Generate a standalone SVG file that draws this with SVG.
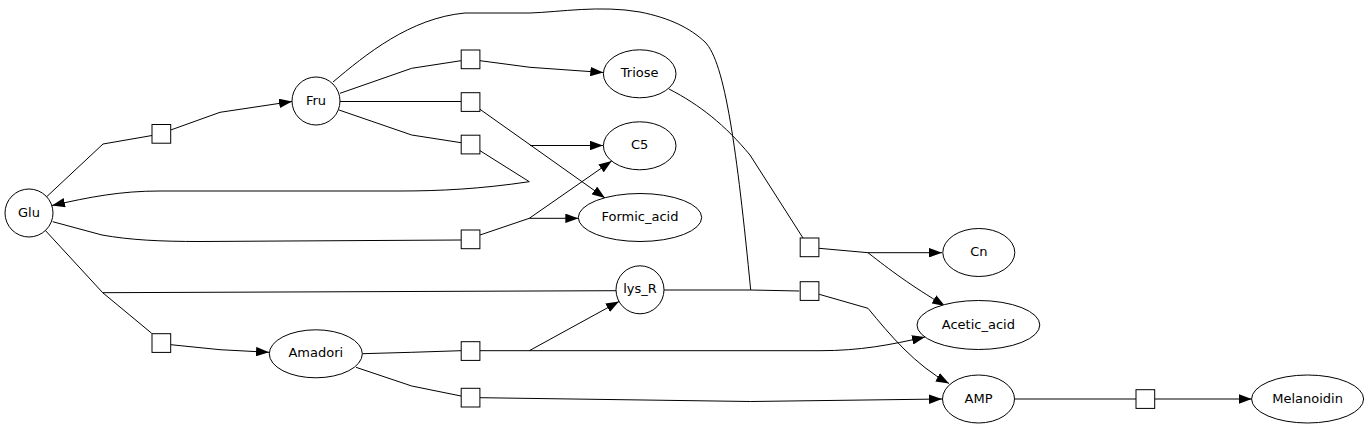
<svg xmlns="http://www.w3.org/2000/svg" width="1371" height="429" viewBox="0 0 1371 429">
<style>
.n{fill:#fff;stroke:#000;stroke-width:1}
.s{fill:#fff;stroke:#000;stroke-width:1}
.e{fill:none;stroke:#000;stroke-width:1}
.a{marker-end:url(#arr)}
text{font-family:"DejaVu Sans","Liberation Sans",sans-serif;font-size:13px;text-anchor:middle;fill:#000}
</style>
<defs>
<marker id="arr" viewBox="0 0 13 9.5" refX="13" refY="4.75" markerWidth="13" markerHeight="9.5" markerUnits="userSpaceOnUse" orient="auto">
<path d="M0,0 L13,4.75 L0,9.5 z" fill="#000"/>
</marker>
</defs>
<rect width="1371" height="429" fill="#fff"/>
<g id="connectors">
<path class="e" d="M46.7,196.7 L103,144 L152,135.5"/>
<path class="e a" d="M170.7,130 L220,112.3 L292,101.5"/>
<path class="e" d="M340,93.3 L411.7,68.3 L461,60.7"/>
<path class="e a" d="M480,60.7 L530,67.3 L603.3,72.5"/>
<path class="e" d="M340,101.5 L461,101.5"/>
<path class="e a" d="M480,109.3 L605,198"/>
<path class="e a" d="M530,145.5 L603,145.5"/>
<path class="e" d="M339,110 L411.7,135 L461,142.7"/>
<path class="e a" d="M480,150.7 L529.3,181.7 C480,189 440,191 400,191 L160,191 C120,191 90,197 52,205.5"/>
<path class="e" d="M52.7,221.7 L102,235 C130,240 160,241.5 200,241.5 L461,240"/>
<path class="e a" d="M480,235 L529.3,218.3 L578.3,218.3"/>
<path class="e a" d="M529.3,218.3 L611.7,161"/>
<path class="e" d="M45.4,230.5 L102.7,292.7 L151.7,333.3"/>
<path class="e" d="M102.7,292.7 L616,290.7"/>
<path class="e a" d="M170.7,344.7 L220,349.7 L269,352.3"/>
<path class="e" d="M362.3,353.7 L411.7,352.3 L461,350.7"/>
<path class="e a" d="M480,350.7 L529.3,350.7 L619,301.5"/>
<path class="e a" d="M529.3,350.7 L820,350.7 C860,350.7 890,345 925,337"/>
<path class="e" d="M356,367.3 L411.7,386 L461,396"/>
<path class="e a" d="M480,397.7 L750.7,401.5 L942,399"/>
<path class="e" d="M669,89 C700,105 725,125 750,155 L803,238"/>
<path class="e a" d="M819,248.3 L868,252.7 L942,252.7"/>
<path class="e a" d="M868,252.7 C890,270 910,285 945,306"/>
<path class="e" d="M333,82 C365,55 410,18 465,13 L530,13 C560,12 600,5 640,12 C670,18 690,28 705,42 C725,62 737,150 750.7,290"/>
<path class="e" d="M664,290 L750.7,290 L799.3,291"/>
<path class="e a" d="M819.2,294.3 L868,308.3 C890,335 915,365 949,383.5"/>
<path class="e" d="M1014.5,399 L1136,399"/>
<path class="e a" d="M1154.3,399 L1251.7,399"/>
</g>
<g id="Glu"><circle class="n" cx="29" cy="213" r="24"/><text x="29" y="216.5">Glu</text></g>
<g id="Fru"><circle class="n" cx="316" cy="101" r="24"/><text x="316" y="104.5">Fru</text></g>
<g id="Triose"><ellipse class="n" cx="639.7" cy="73.8" rx="36.3" ry="24"/><text x="639.7" y="77.2">Triose</text></g>
<g id="C5"><ellipse class="n" cx="639.7" cy="145.8" rx="36.3" ry="24"/><text x="639.7" y="149.2">C5</text></g>
<g id="Formic_acid"><ellipse class="n" cx="640" cy="217.5" rx="61.7" ry="24"/><text x="640" y="221">Formic_acid</text></g>
<g id="lys_R"><circle class="n" cx="640" cy="289.8" r="24"/><text x="640" y="293.2">lys_R</text></g>
<g id="Amadori"><ellipse class="n" cx="315.8" cy="353.8" rx="46.5" ry="24"/><text x="315.8" y="357.2">Amadori</text></g>
<g id="Cn"><ellipse class="n" cx="978.8" cy="252.5" rx="36" ry="24"/><text x="978.8" y="256">Cn</text></g>
<g id="Acetic_acid"><ellipse class="n" cx="978.4" cy="325" rx="61.4" ry="24.5"/><text x="978.4" y="328.5">Acetic_acid</text></g>
<g id="AMP"><ellipse class="n" cx="978.5" cy="399" rx="36" ry="24"/><text x="978.5" y="402.5">AMP</text></g>
<g id="Melanoidin"><ellipse class="n" cx="1307.6" cy="399" rx="56" ry="24"/><text x="1307.6" y="402.5">Melanoidin</text></g>
<g id="r1"><rect class="s" x="152" y="124.5" width="18.7" height="18.7"/></g>
<g id="r2"><rect class="s" x="461.2" y="50" width="18.7" height="18.7"/></g>
<g id="r3"><rect class="s" x="461.2" y="92.7" width="18.7" height="18.7"/></g>
<g id="r4"><rect class="s" x="461.2" y="135.2" width="18.7" height="18.7"/></g>
<g id="r5"><rect class="s" x="461.2" y="230" width="18.7" height="18.7"/></g>
<g id="r6"><rect class="s" x="152" y="333.7" width="18.7" height="18.7"/></g>
<g id="r9"><rect class="s" x="461.2" y="341.7" width="18.7" height="18.7"/></g>
<g id="r10"><rect class="s" x="461.2" y="388.3" width="18.7" height="18.7"/></g>
<g id="r7"><rect class="s" x="800.2" y="238" width="18.7" height="18.7"/></g>
<g id="r8"><rect class="s" x="800.2" y="281.7" width="18.7" height="18.7"/></g>
<g id="r11"><rect class="s" x="1136" y="389.7" width="18.7" height="18.7"/></g>
</svg>
